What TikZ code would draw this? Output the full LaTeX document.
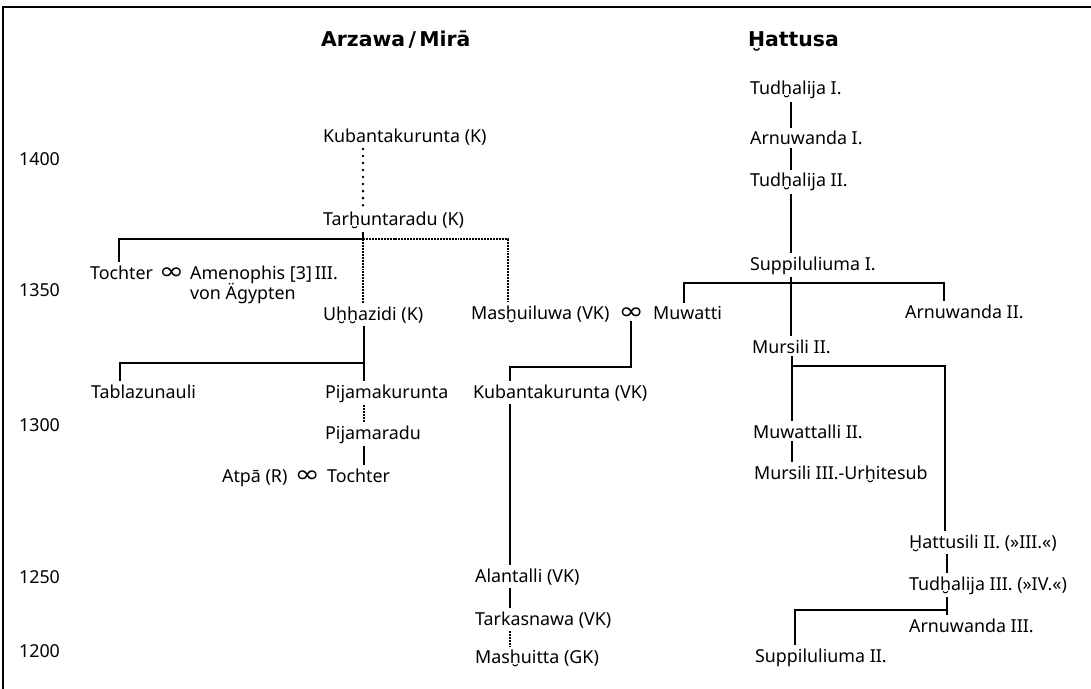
\documentclass[tikz,border=0pt]{standalone}
\usepackage{fontspec}
\usepackage{graphicx}
\usepackage{tikz}
\usetikzlibrary{calc}
\setmainfont{Noto Sans}
\newfontfamily\headfont{DejaVu Sans}
\newfontfamily\symfont{DejaVu Sans}
\newcommand{\marr}{\scalebox{1.7}[1.35]{\symfont ∞}}

\begin{document}
\begin{tikzpicture}[x=0.025cm, y=-0.025cm,
        every node/.style={font=\fontsize{12.7}{15}\selectfont, anchor=base west, inner sep=2pt},
        heading/.style={font=\fontsize{14.5}{17}\selectfont\headfont\bfseries},
        marriage/.style={inner sep=1pt, anchor=base},
        conn/.style={line width=1.4pt},
        uncertain/.style={line width=1.6pt, dash pattern=on 1.4pt off 0.7pt},
        dotline/.style={line width=2pt, line cap=round, dash pattern=on 0pt off 5pt},
        border line/.style={line width=1.4pt}]
        \useasboundingbox (0,0) rectangle (1091,689);

        % Draw the frame
        \draw[border line] (3,689) -- (3,7) -- (1091,7);

        % Define nodes
        \node[heading] (arzawa) at (318,47) {Arzawa\,/\,Mirā};
        \node[heading] (hattusa) at (745,47) {Ḫattusa};

        \node (y1400) at (16,166) {1400};
        \node (y1350) at (16,296) {1350};
        \node (y1300) at (16,431) {1300};
        \node (y1250) at (16,583) {1250};
        \node (y1200) at (16,657) {1200};

        \node (kubK) at (320,143) {Kubantakurunta (K)};
        \node (tarK) at (320,226) {Tarḫuntaradu (K)};
        \node (tochA) at (87,279) {Tochter};
        \node (amen) at (187,279) {Amenophis [3]\,III.};
        \node[marriage] (mA) at ($(tochA.base east)!0.5!(amen.base west)$) {\marr};
        \node (aeg) at (187,299) {von Ägypten};
        \node (uhh) at (320,320) {Uḫḫazidi (K)};
        \node (mash) at (468,319) {Masḫuiluwa (VK)};
        \node (muwatti) at (650,319) {Muwatti};
        \node[marriage] (mB) at ($(mash.base east)!0.5!(muwatti.base west)$) {\marr};
        \node (tabl) at (88,398) {Tablazunauli};
        \node (pijK) at (322,398) {Pijamakurunta};
        \node (kubVK) at (470,398) {Kubantakurunta (VK)};
        \node (pijR) at (322,439) {Pijamaradu};
        \node (atpa) at (219,482) {Atpā (R)};
        \node (tochB) at (324,482) {Tochter};
        \node[marriage] (mC) at ($(atpa.base east)!0.5!(tochB.base west)$) {\marr};
        \node (alant) at (472,582) {Alantalli (VK)};
        \node (tark) at (472,625) {Tarkasnawa (VK)};
        \node (mashu) at (472,663) {Masḫuitta (GK)};

        \node (tudI) at (747,95) {Tudḫalija I.};
        \node (arnI) at (747,145) {Arnuwanda I.};
        \node (tudII) at (747,187) {Tudḫalija II.};
        \node (supI) at (747,270) {Suppiluliuma I.};
        \node (arnII) at (902,318) {Arnuwanda II.};
        \node (murII) at (749,353) {Mursili II.};
        \node (muwII) at (750,438) {Muwattalli II.};
        \node (murIII) at (751,479) {Mursili III.-Urḫitesub};
        \node (hattII) at (906,548) {Ḫattusili II. (»III.«)};
        \node (tudIII) at (906,590) {Tudḫalija III. (»IV.«)};
        \node (arnIII) at (906,632) {Arnuwanda III.};
        \node (supII) at (752,662) {Suppiluliuma II.};

        % Junctions
        \coordinate (jA) at (363,239);
        \coordinate (jA1) at (119,239);
        \coordinate (jA2) at (508,239);
        \coordinate (jB) at (364,363);
        \coordinate (jB1) at (120,363);
        \coordinate (jC1) at (510,367);
        \coordinate (jH) at (791,283);
        \coordinate (jH1) at (684,283);
        \coordinate (jH2) at (944,283);
        \coordinate (jM) at (792,366);
        \coordinate (jM1) at (945,366);
        \coordinate (jT) at (947,610);
        \coordinate (jT1) at (795,610);

        % Draw lines of Arzawa / Mira
        \draw[dotline] (kubK.south -| jA) -- (tarK.north -| jA);
        \draw[conn] (tarK.south -| jA) -- (jA) -- (jA1) -- (tochA.north -| jA1);
        \draw[uncertain] (jA) -- (jA2) -- (mash.north -| jA2);
        \draw[uncertain] (jA) -- (uhh.north -| jA);
        \draw[conn] (uhh.south -| jB) -- (pijK.north -| jB);
        \draw[conn] (jB) -- (jB1) -- (tabl.north -| jB1);
        \draw[uncertain] (pijK.south -| jB) -- (pijR.north -| jB);
        \draw[conn] (pijR.south -| jB) -- (tochB.north -| jB);
        \draw[conn] (mB.south) -- (mB.south |- jC1) -- (jC1) -- (kubVK.north -| jC1);
        \draw[conn] (kubVK.south -| jC1) -- (alant.north -| jC1);
        \draw[conn] (alant.south -| jC1) -- (tark.north -| jC1);
        \draw[uncertain] (tark.south -| jC1) -- (mashu.north -| jC1);

        % Draw lines of Hattusa
        \draw[conn] (tudI.south -| jH) -- (arnI.north -| jH);
        \draw[conn] (arnI.south -| jH) -- (tudII.north -| jH);
        \draw[conn] (tudII.south -| jH) -- (supI.north -| jH);
        \draw[conn] (supI.south -| jH) -- (murII.north -| jH);
        \draw[conn] (muwatti.north -| jH1) -- (jH1) -- (jH2) -- (arnII.north -| jH2);
        \draw[conn] (murII.south -| jM) -- (muwII.north -| jM);
        \draw[conn] (jM) -- (jM1) -- (hattII.north -| jM1);
        \draw[conn] (muwII.south -| jM) -- (murIII.north -| jM);
        \draw[conn] (hattII.south -| jT) -- (tudIII.north -| jT);
        \draw[conn] (tudIII.south -| jT) -- (arnIII.north -| jT);
        \draw[conn] (jT) -- (jT1) -- (supII.north -| jT1);
\end{tikzpicture}
\end{document}
